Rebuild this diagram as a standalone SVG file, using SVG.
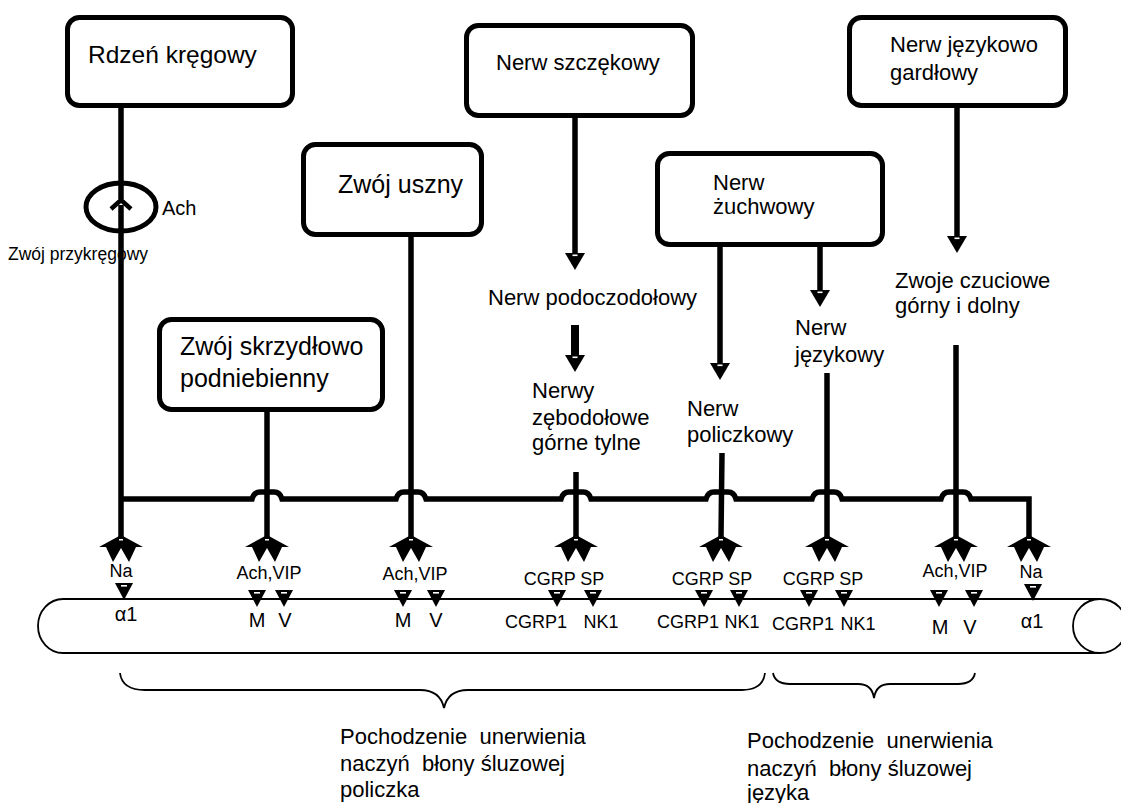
<svg xmlns="http://www.w3.org/2000/svg" width="1121" height="803" viewBox="0 0 1121 803">
<style>
text{font-family:"Liberation Sans",Arial,sans-serif;fill:#000}
.box{fill:#fff;stroke:#000;stroke-width:5}
.ln{fill:none;stroke:#000;stroke-width:5.5}
.thin{fill:none;stroke:#000;stroke-width:1.8}
.t25{font-size:25px}
.t22{font-size:22px}
.t18{font-size:18px}
.t20{font-size:20px}
.mid{text-anchor:middle}
</style>
<defs>
<g id="ah"><polygon points="-10,-17 10,-17 0,0" fill="#000"/><rect x="-2.5" y="-15.5" width="5" height="1.6" fill="#fff"/></g>
<g id="rt"><polygon points="-9,0 9,0 0,17" fill="#000"/><rect x="-3" y="2" width="6" height="1.6" fill="#fff"/></g>
<g id="dbl"><polygon points="0,0 22,12 15,12 8,27 0,13 -8,27 -15,12 -22,12" fill="#000"/><rect x="-2" y="4" width="4" height="1.5" fill="#fff"/></g>
</defs>

<g id="connectors">
<path class="ln" d="M121,108 V199 M121,205 V537"/>
<path d="M111,209 L121,200 L131,209" fill="none" stroke="#000" stroke-width="4.5"/>
<path class="ln" d="M267,412 V537 M411,237 V537 M576,472 V537 M722,453 L721,537 M827,373 V537 M956,345 V537"/>
<path class="ln" stroke-linejoin="miter" d="M121,499 L252,499 Q254,492 260,492 L274,492 Q280,492 282,499 L396,499 Q398,492 404,492 L418,492 Q424,492 426,499 L561,499 Q563,492 569,492 L583,492 Q589,492 591,499 L706,499 Q708,492 714,492 L728,492 Q734,492 736,499 L812,499 Q814,492 820,492 L834,492 Q840,492 842,499 L941,499 Q943,492 949,492 L963,492 Q969,492 971,499 L1029,499 L1029,537"/>
<use href="#dbl" x="121" y="535"/>
<use href="#dbl" x="267" y="535"/>
<use href="#dbl" x="411" y="535"/>
<use href="#dbl" x="576" y="535"/>
<use href="#dbl" x="721" y="535"/>
<use href="#dbl" x="827" y="535"/>
<use href="#dbl" x="956" y="535"/>
<use href="#dbl" x="1029" y="535"/>
<path class="ln" d="M575,117 V255 M720,247 V364 M820,247 V291 M957,108 V237"/>
<path fill="none" stroke="#000" stroke-width="8" d="M575,325 V357"/>
<use href="#ah" x="575" y="270"/>
<use href="#ah" x="575" y="372"/>
<use href="#ah" x="720" y="380"/>
<use href="#ah" x="820" y="307"/>
<use href="#ah" x="957" y="253"/>
</g>

<g id="paravertebral-ganglion">
<ellipse cx="121" cy="207" rx="35" ry="24" fill="none" stroke="#000" stroke-width="5"/>
<text x="162" y="215" class="t20">Ach</text>
<text x="8" y="260" style="font-size:17.5px">Zwój przykręgowy</text>
</g>

<g id="node-rdzen"><rect class="box" x="67.5" y="17.5" width="225" height="88" rx="12"/><text x="88" y="63" style="font-size:24.5px">Rdzeń kręgowy</text></g>
<g id="node-uszny"><rect class="box" x="303.5" y="144.5" width="178" height="90" rx="12"/><text x="338" y="193" class="t25">Zwój uszny</text></g>
<g id="node-skrzydlowo"><rect class="box" x="159.5" y="319.5" width="223" height="90" rx="12"/><text x="180" y="355" class="t25">Zwój skrzydłowo</text><text x="180" y="387" class="t25">podniebienny</text></g>
<g id="node-szczekowy"><rect class="box" x="466.5" y="25.5" width="226" height="90" rx="12"/><text x="496" y="70" class="t22">Nerw szczękowy</text></g>
<g id="node-zuchwowy"><rect class="box" x="657.5" y="153.5" width="225" height="91" rx="12"/><text x="713" y="190" class="t22">Nerw</text><text x="713" y="214" class="t22">żuchwowy</text></g>
<g id="node-jezykowo-gardlowy"><rect class="box" x="849.5" y="17.5" width="216" height="88" rx="12"/><text x="890" y="52" class="t22">Nerw językowo</text><text x="890" y="80" class="t22">gardłowy</text></g>

<g id="node-podoczodolowy"><text x="488" y="305" class="t22">Nerw podoczodołowy</text></g>
<g id="node-zebodolowe"><text x="532" y="398" class="t22">Nerwy</text><text x="532" y="425" class="t22">zębodołowe</text><text x="532" y="450" class="t22">górne tylne</text></g>
<g id="node-policzkowy"><text x="687" y="416" class="t22">Nerw</text><text x="687" y="442" class="t22">policzkowy</text></g>
<g id="node-jezykowy"><text x="795" y="335" class="t22">Nerw</text><text x="795" y="362" class="t22">językowy</text></g>
<g id="node-zwoje-czuciowe"><text x="895" y="288" class="t22">Zwoje czuciowe</text><text x="895" y="313" class="t22">górny i dolny</text></g>

<g id="vessel">
<path class="thin" d="M63,599 L1100,599 M63,653 L1100,653 M63,599 A25,27 0 0 0 63,653"/>
<ellipse class="thin" cx="1100" cy="626" rx="27" ry="27"/>
</g>

<g id="receptors">
<text x="121" y="577" class="t18 mid">Na</text>
<use href="#rt" x="124" y="583"/>
<text x="126" y="621" class="t20 mid">α1</text>

<text x="269" y="579" class="t18 mid">Ach,VIP</text>
<use href="#rt" x="257" y="590"/><use href="#rt" x="284" y="590"/>
<text x="257" y="627" class="t20 mid">M</text><text x="285" y="627" class="t20 mid">V</text>

<text x="415" y="580" class="t18 mid">Ach,VIP</text>
<use href="#rt" x="403" y="590"/><use href="#rt" x="436" y="590"/>
<text x="403" y="627" class="t20 mid">M</text><text x="436" y="627" class="t20 mid">V</text>

<text x="564" y="585" class="t18 mid">CGRP SP</text>
<use href="#rt" x="557" y="590"/><use href="#rt" x="593" y="590"/>
<text x="536" y="628" class="t18 mid">CGRP1</text><text x="601" y="628" class="t18 mid">NK1</text>

<text x="712" y="585" class="t18 mid">CGRP SP</text>
<use href="#rt" x="704" y="590"/><use href="#rt" x="739" y="590"/>
<text x="688" y="628" class="t18 mid">CGRP1</text><text x="742" y="628" class="t18 mid">NK1</text>

<text x="823" y="585" class="t18 mid">CGRP SP</text>
<use href="#rt" x="809" y="590"/><use href="#rt" x="844" y="590"/>
<text x="803" y="630" class="t18 mid">CGRP1</text><text x="858" y="630" class="t18 mid">NK1</text>

<text x="955" y="577" class="t18 mid">Ach,VIP</text>
<use href="#rt" x="939" y="590"/><use href="#rt" x="974" y="590"/>
<text x="940" y="634" class="t20 mid">M</text><text x="970" y="634" class="t20 mid">V</text>

<text x="1031" y="578" class="t18 mid">Na</text>
<use href="#rt" x="1033" y="584"/>
<text x="1032" y="628" class="t20 mid">α1</text>
</g>

<g id="brace-policzek">
<path class="thin" stroke-width="1.5" d="M120,673 Q122,690 145,690 L420,690 Q440,690 444,708 Q448,690 468,690 L742,690 Q763,690 765,673"/>
<text x="340" y="744" class="t22">Pochodzenie&#160; unerwienia</text>
<text x="340" y="771" class="t22">naczyń&#160; błony śluzowej</text>
<text x="340" y="797" class="t22">policzka</text>
</g>
<g id="brace-jezyk">
<path class="thin" stroke-width="1.5" d="M773,673 Q775,684 790,684 L858,684 Q872,684 874,698 Q876,684 890,684 L958,684 Q973,684 975,673"/>
<text x="747" y="748" class="t22">Pochodzenie&#160; unerwienia</text>
<text x="747" y="776" class="t22">naczyń&#160; błony śluzowej</text>
<text x="747" y="800" class="t22">języka</text>
</g>
</svg>
